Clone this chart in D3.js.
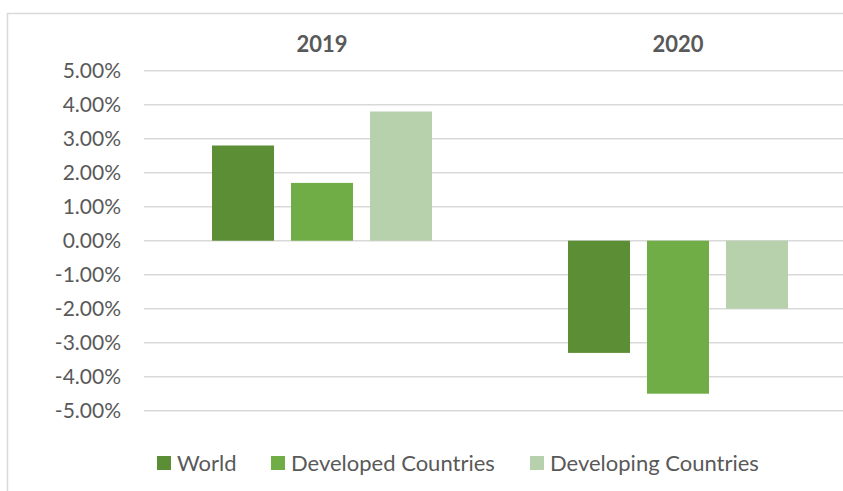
<!DOCTYPE html>
<html>
<head>
<meta charset="utf-8">
<script src="https://cdn.jsdelivr.net/npm/d3@7"></script>
<style>
  html, body { margin: 0; padding: 0; background: #fff; }
  svg { display: block; }
  text { font-family: Lato, "Open Sans", sans-serif; fill: #595959; }
</style>
</head>
<body>
<svg id="chart" width="843" height="491"></svg>
<script>
// Annual growth rates by year and economy group
const years = ["2019", "2020"];
const series = ["World", "Developed Countries", "Developing Countries"];
const world = [0.028, -0.033];
const developed = [0.017, -0.045];
const developing = [0.038, -0.020];
const yTicks = [0.05, 0.04, 0.03, 0.02, 0.01, 0, -0.01, -0.02, -0.03, -0.04, -0.05];
const colors = ["#5B8E35", "#70AD47", "#B6D1AB"];

const values = [world, developed, developing];
const rows = [];
years.forEach((yr, i) => {
  series.forEach((s, j) => rows.push({ year: yr, series: s, value: values[j][i] }));
});

const svg = d3.select("#chart");

// outer frame of the chart area
svg.append("rect")
  .attr("x", 7.5).attr("y", 13.5)
  .attr("width", 860).attr("height", 500)
  .attr("fill", "none").attr("stroke", "#D9D9D9").attr("stroke-width", 1.5);

const plotLeft = 144, plotRight = 856;
const y = d3.scaleLinear().domain([-0.05, 0.05]).range([410.7, 70.7]);
const x0 = d3.scaleBand().domain(years).range([plotLeft, plotRight]);
const x1 = d3.scaleBand().domain(series).range([0, x0.bandwidth()])
  .paddingInner(0.215).paddingOuter(0.861);
const color = d3.scaleOrdinal().domain(series).range(colors);

// horizontal gridlines
svg.append("g")
  .selectAll("line")
  .data(yTicks)
  .join("line")
  .attr("x1", plotLeft).attr("x2", plotRight)
  .attr("y1", d => y(d)).attr("y2", d => y(d))
  .attr("stroke", "#D9D9D9").attr("stroke-width", 1.4);

// y axis labels, plain hyphen for negatives
const pct = d3.format(".2%");
const yAxis = d3.axisLeft(y).tickValues(yTicks)
  .tickFormat(d => pct(d).replace("\u2212", "-"))
  .tickSize(0).tickPadding(0);
const ya = svg.append("g").attr("transform", "translate(121,0)").call(yAxis);
ya.select(".domain").remove();
ya.selectAll("text")
  .attr("font-size", 21)
  .style("font-family", "Lato, 'Open Sans', sans-serif")
  .attr("fill", "#595959");

// bars
svg.append("g")
  .selectAll("rect")
  .data(rows)
  .join("rect")
  .attr("x", d => x0(d.year) + x1(d.series))
  .attr("width", x1.bandwidth())
  .attr("y", d => y(Math.max(0, d.value)))
  .attr("height", d => Math.abs(y(d.value) - y(0)))
  .attr("fill", d => color(d.series));

// category labels along the top
const xAxis = d3.axisTop(x0).tickSize(0).tickPadding(0);
const xa = svg.append("g").attr("transform", "translate(0,52)").call(xAxis);
xa.select(".domain").remove();
xa.selectAll("text")
  .attr("font-size", 22)
  .attr("font-weight", "bold")
  .style("font-family", "Lato, 'Open Sans', sans-serif")
  .attr("fill", "#595959")
  .attr("dy", 0);

// legend
const legendX = [157, 271, 530];
const lg = svg.append("g")
  .selectAll("g")
  .data(series)
  .join("g")
  .attr("transform", (d, i) => `translate(${legendX[i]},456)`);
lg.append("rect").attr("width", 14).attr("height", 14).attr("fill", d => color(d));
lg.append("text")
  .attr("x", 20).attr("y", 14.5)
  .attr("font-size", 22)
  .text(d => d);
</script>
</body>
</html>
